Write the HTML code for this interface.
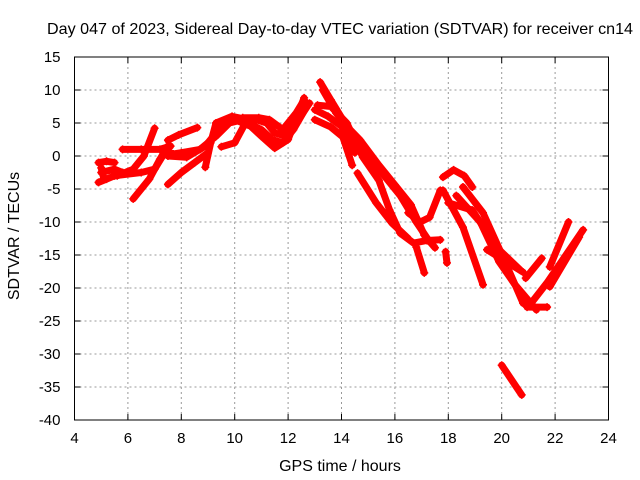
<!DOCTYPE html>
<html><head><meta charset="utf-8"><style>
body{margin:0;background:#fff;}
svg{display:block;font-family:"Liberation Sans",sans-serif;}
</style></head><body>
<svg id="chart" width="640" height="480" viewBox="0 0 640 480">
<rect width="640" height="480" fill="#fff"/>
<g id="grid"></g>
<g id="series"></g>
<rect x="74.5" y="57" width="534" height="363" fill="none" stroke="#000" stroke-width="1"/>
<g id="ticks"></g>
<text x="340" y="34" font-size="16" text-anchor="middle" textLength="586" lengthAdjust="spacingAndGlyphs">Day 047 of 2023, Sidereal Day-to-day VTEC variation (SDTVAR) for receiver cn14</text>
<text x="340" y="471" font-size="16" text-anchor="middle">GPS time / hours</text>
<text transform="translate(19,236) rotate(-90)" font-size="16" text-anchor="middle">SDTVAR / TECUs</text>
</svg>
<script>
const xTicks=[4,6,8,10,12,14,16,18,20,22,24];
const yTicks=[15,10,5,0,-5,-10,-15,-20,-25,-30,-35,-40];
const tracks=[
[[4.9,-1],[5.2,-0.8],[5.5,-1]],
[[4.9,-4],[5.2,-3.5],[5.5,-3]],
[[5,-2.5],[5.5,-2],[5.8,-2.5]],
[[5,-1.8],[5.1,-3.5]],
[[5.6,-3],[6.2,-2],[6.6,0],[7,4.2]],
[[5.8,1],[6.5,1],[7.2,1],[7.6,1.5]],
[[6.2,-6.5],[6.8,-3.5],[7.2,-0.5],[7.5,1.5]],
[[5.5,-3],[6.5,-2.5],[7,-2],[7.3,0]],
[[7.5,-4.3],[8,-2.5],[8.5,-1],[9,0.5]],
[[7.5,2.4],[7.9,3.2],[8.6,4.3]],
[[7.3,1],[7.7,0.3],[8,0.5],[8.7,1],[9.3,3],[9.8,5],[10.3,5.5]],
[[7.5,0],[8.2,-0.2],[8.9,1.5],[9.4,4],[9.9,5.3]],
[[8.9,-1.7],[9.1,2],[9.3,5],[9.9,6],[10.5,5.5]],
[[9.5,1.4],[10,2],[10.4,5],[10.8,5.5],[11.2,5],[11.5,3.5],[11.9,3],[12.3,5],[12.8,8]],
[[10,5.5],[10.6,4.5],[11,3],[11.5,1.2],[12,2.5],[12.6,8.8]],
[[10.3,5.8],[10.9,5.8],[11.3,5.5],[11.8,4],[12.3,6.5],[12.6,8.5]],
[[10.5,5],[11,4],[11.4,2.5],[11.8,2],[12.2,4],[12.7,7.5]],
[[13.2,11.2],[13.6,8.5],[14.2,4.5],[14.7,2.4],[15.4,-1.4],[16,-4.4],[16.6,-7.4],[17.1,-12],[17.5,-13.9]],
[[13.3,10],[13.8,6.5],[14.4,3.5],[15,0],[15.6,-3],[16.2,-6],[16.8,-10],[17.3,-13]],
[[13.1,7.7],[13.6,7.5],[14.2,5],[14.8,-0.2],[15.4,-3.7],[15.8,-8.2],[16.2,-11.7],[16.7,-13.2],[17.2,-12.8],[17.7,-12.7]],
[[13,5.5],[13.6,4.4],[14.05,2.9],[14.4,-1.4]],
[[13,7],[13.5,6],[14,4.5],[14.5,0.5]],
[[14.6,-2.6],[15.3,-7.1],[15.9,-10.2],[16.5,-12.5]],
[[16.8,-13.8],[17.1,-17.7]],
[[16.5,-8.6],[16.95,-10],[17.3,-9.3],[17.7,-5.2]],
[[17.8,-3.2],[18.2,-2.1],[18.6,-3],[18.9,-4.7]],
[[17.8,-5.2],[18.55,-10.8],[19.3,-19.5]],
[[18,-7.1],[18.9,-8.2],[19.8,-13.8],[20.7,-17.3]],
[[18.3,-6],[19.2,-10],[19.9,-16],[20.5,-19.5],[21.3,-23.3]],
[[18.55,-4.7],[19.3,-8.6],[20.05,-15.3],[20.8,-22.3]],
[[19.45,-14.2],[20.8,-17.6]],
[[20.9,-18.5],[21.5,-15.5]],
[[21.1,-22.3],[21.7,-19.2],[23.05,-11.2]],
[[21.8,-16.8],[22.5,-10]],
[[21.8,-19.8],[22.9,-12.3]],
[[20.95,-22.9],[21.7,-22.9]],
[[20,-31.7],[20.75,-36.2]],
[[17.9,-14.5],[17.95,-16.2]]
];
const NS="http://www.w3.org/2000/svg";
const X0=74.5,X1=608.5,Y0=57,Y1=420;
function sx(h){return X0+(h-4)/20*(X1-X0);}
function sy(v){return Y0+(15-v)/55*(Y1-Y0);}
function mk(t,a,p){const e=document.createElementNS(NS,t);for(const k in a)e.setAttribute(k,a[k]);p.appendChild(e);return e;}
const grid=document.getElementById('grid'),ticks=document.getElementById('ticks'),ser=document.getElementById('series');
xTicks.forEach(t=>{
 const x=sx(t);
 if(t>4&&t<24){const g=mk('line',{x1:x,x2:x,y1:Y0,y2:Y1,stroke:'#999','stroke-dasharray':'2,3'},grid);
 
 }
 mk('line',{x1:x,x2:x,y1:Y1,y2:Y1-6,stroke:'#000'},ticks);
 mk('line',{x1:x,x2:x,y1:Y0,y2:Y0+6,stroke:'#000'},ticks);
 const l=mk('text',{x:x,y:Y1+23,'font-size':15,'text-anchor':'middle'},ticks);l.textContent=t;
 
 
});
yTicks.forEach(t=>{
 const y=sy(t);
 if(t<15&&t>-40){const g=mk('line',{x1:X0,x2:X1,y1:y,y2:y,stroke:'#999','stroke-dasharray':'2,3'},grid);
 
 }
 mk('line',{x1:X0,x2:X0+6,y1:y,y2:y,stroke:'#000'},ticks);
 mk('line',{x1:X1,x2:X1-6,y1:y,y2:y,stroke:'#000'},ticks);
 const l=mk('text',{x:X0-14,y:y+5,'font-size':15,'text-anchor':'end'},ticks);l.textContent=t;
 
 
});
tracks.forEach(tr=>{
 const pts=tr.map(p=>sx(p[0]).toFixed(1)+','+sy(p[1]).toFixed(1)).join(' ');
 const pl=mk('polyline',{points:pts,fill:'none',stroke:'#f00','stroke-width':7,'stroke-linejoin':'round','stroke-linecap':'round'},ser);
 
 
 tr.forEach(p=>{
  const x=sx(p[0]),y=sy(p[1]);
  mk('path',{d:`M${x-4},${y}h8M${x},${y-4}v8`,stroke:'#f00','stroke-width':1.5},ser);
 });
});
</script>
</body></html>
